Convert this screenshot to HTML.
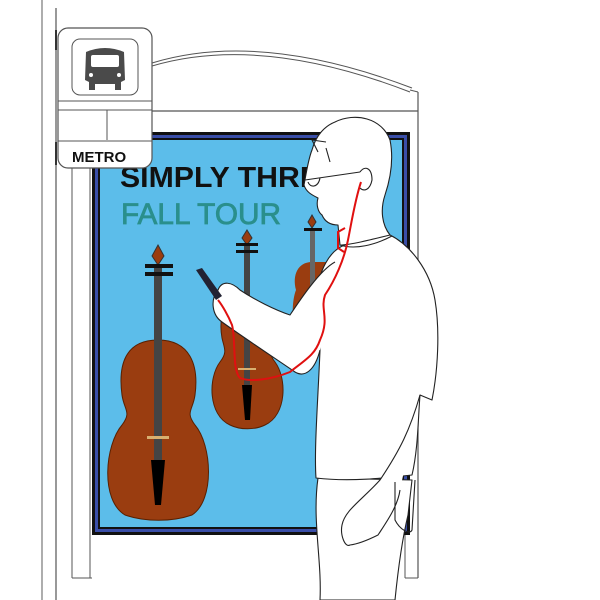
<!DOCTYPE html>
<html><head><style>
html,body{margin:0;padding:0;background:#fff;width:600px;height:600px;overflow:hidden}
svg{display:block}
</style></head><body>
<svg width="600" height="600" viewBox="0 0 600 600" xmlns="http://www.w3.org/2000/svg">
<rect width="600" height="600" fill="#fff"/>
<line x1="42" y1="0" x2="42" y2="600" stroke="#777" stroke-width="1.2"/>
<line x1="56" y1="8" x2="56" y2="600" stroke="#555" stroke-width="1.2"/>
<path d="M152 63 Q260 30 412 88" fill="none" stroke="#555" stroke-width="1"/>
<path d="M152 66 Q260 34 410 92" fill="none" stroke="#555" stroke-width="1"/>
<line x1="410" y1="90" x2="418" y2="92" stroke="#555"/>
<line x1="418" y1="92" x2="418" y2="578" stroke="#555" stroke-width="1.2"/>
<line x1="152" y1="111" x2="418" y2="111" stroke="#555" stroke-width="1.2"/>
<line x1="72" y1="168" x2="72" y2="578" stroke="#555"/>
<line x1="90" y1="168" x2="90" y2="578" stroke="#555"/>
<line x1="72" y1="578" x2="92" y2="578" stroke="#555"/>
<line x1="405" y1="530" x2="405" y2="578" stroke="#555"/>
<line x1="405" y1="578" x2="418" y2="578" stroke="#555"/>
<rect x="92" y="132" width="318" height="403" fill="#111"/>
<rect x="95" y="135" width="312" height="397" fill="#3a4ea8"/>
<rect x="98" y="138" width="306" height="391" fill="#111"/>
<rect x="100" y="140" width="302" height="387" fill="#5cbdea"/>
<text x="120" y="187" font-family="Liberation Sans, sans-serif" font-weight="bold" font-size="29" fill="#111" textLength="200" lengthAdjust="spacingAndGlyphs">SIMPLY THRE</text>
<text x="121" y="224" font-family="Liberation Sans, sans-serif" font-size="30" fill="#2a8f8c" stroke="#2a8f8c" stroke-width="0.8" textLength="160" lengthAdjust="spacingAndGlyphs">FALL TOUR</text>
<g>
<path d="M158 340 C125 340 118 365 122 395 C124 410 132 412 122 425 C105 445 100 500 125 515 C145 522 172 522 192 515 C215 500 212 445 195 425 C185 412 193 410 195 395 C199 365 190 340 158 340Z" fill="#9a3d10" stroke="#5a2000"/>
<rect x="154" y="265" width="8" height="210" fill="#444"/>
<path d="M151 460 L165 460 L161 505 L155 505Z" fill="#000"/>
<rect x="147" y="436" width="22" height="3" fill="#d8b070"/>
<path d="M158 245 L164 256 L158 265 L152 256Z" fill="#9a3d10" stroke="#333"/>
<rect x="145" y="264" width="28" height="4" fill="#111"/><rect x="145" y="272" width="28" height="4" fill="#111"/>
</g>
<g>
<path d="M247 300 C225 300 218 315 222 338 C224 348 228 352 220 362 C208 378 208 415 230 425 C240 430 255 430 265 425 C287 415 287 378 275 362 C267 352 272 348 273 338 C276 315 270 300 247 300Z" fill="#9a3d10" stroke="#5a2000"/>
<rect x="244" y="245" width="6" height="150" fill="#444"/>
<path d="M242 385 L252 385 L250 420 L245 420Z" fill="#000"/>
<rect x="238" y="368" width="18" height="2" fill="#d8b070"/>
<path d="M247 230 L252 238 L247 245 L242 238Z" fill="#9a3d10" stroke="#333"/>
<rect x="236" y="243" width="22" height="3" fill="#111"/><rect x="236" y="250" width="22" height="3" fill="#111"/>
</g>
<g>
<path d="M312 262 C298 262 292 275 296 290 C292 300 290 325 300 340 L330 340 L330 262Z" fill="#9a3d10"/>
<rect x="310" y="228" width="5" height="80" fill="#666"/>
<path d="M312 215 L316 222 L312 228 L308 222Z" fill="#9a3d10" stroke="#333"/>
<rect x="304" y="228" width="18" height="3" fill="#111"/>
</g>
<rect x="58" y="28" width="94" height="140" rx="10" fill="#fff" stroke="#555" stroke-width="1.2"/>
<rect x="72" y="39" width="66" height="56" rx="8" fill="#fff" stroke="#555"/>
<path d="M86 52 Q105 44 124 52 L125 80 L121 82 L121 90 L115 90 L115 84 L95 84 L95 90 L89 90 L89 82 L85 80Z" fill="#4a4a4a"/>
<rect x="91" y="55" width="28" height="12" fill="#fff" rx="2"/>
<circle cx="91" cy="75" r="2" fill="#fff"/><circle cx="119" cy="75" r="2" fill="#fff"/>
<line x1="58" y1="101" x2="152" y2="101" stroke="#555"/>
<line x1="58" y1="110" x2="152" y2="110" stroke="#555"/>
<line x1="107" y1="110" x2="107" y2="140" stroke="#555"/>
<line x1="58" y1="141" x2="152" y2="141" stroke="#555"/>
<text x="72" y="162" font-family="Liberation Sans, sans-serif" font-weight="bold" font-size="15" fill="#111">METRO</text>
<path d="M56 30 L56 50 M56 142 L56 165" stroke="#333" stroke-width="2"/>
<g fill="#fff" stroke="#222" stroke-width="1.1" stroke-linejoin="round">
<path d="M318 478 C312 520 322 560 320 600 L395 600 C398 570 402 540 408 515 L412 480Z"/>
<path d="M345 245 C330 250 318 270 316 300 L320 350 C318 400 314 450 316 478 C350 482 385 478 412 475 C418 450 418 420 420 395 L432 400 C438 370 440 330 435 300 C430 270 410 245 390 235 L370 232Z"/>
<path d="M420 395 C410 430 400 450 380 480 C362 500 345 510 342 525 C340 535 345 548 350 545 C358 544 368 540 378 535 C388 520 398 505 400 490"/>
<path d="M395 482 L395 520 C400 530 410 535 412 530 L415 480" fill="none"/>
<path d="M335 262 C320 270 300 300 290 315 C275 310 255 300 240 290 C232 282 222 280 218 290 C210 300 212 315 222 322 C240 335 270 355 295 372 C305 378 315 370 320 350"/>
<path d="M335 122 C355 112 382 118 390 140 C394 160 390 180 385 195 C380 210 382 225 390 235 C370 240 350 245 340 245 L338 225 C330 225 325 222 322 215 C318 212 316 205 318 198 C312 195 306 192 304 185 C306 175 308 160 312 150 C316 135 325 126 335 122Z"/>
<path d="M318 152 L312 140 L326 142 M330 162 L326 148" fill="none"/>
<path d="M305 180 L360 172 M320 178 C318 188 310 188 308 182" fill="none"/>
<path d="M360 172 C365 165 372 168 372 180 C370 190 364 192 360 188" fill="none"/>
<path d="M340 245 C355 250 375 245 392 236" fill="none"/>
</g>
<path d="M196 270 L202 268 L222 296 L216 300Z" fill="#223"/>
<path d="M361 182 C355 200 352 220 348 240 C344 260 335 280 325 295 C320 310 330 318 320 340 C315 355 305 360 290 372 C270 380 250 382 240 378 C232 370 236 340 232 325 C228 315 222 305 218 300" fill="none" stroke="#e01010" stroke-width="2"/>
<path d="M345 228 L338 232 L338 248 L344 252" fill="none" stroke="#e01010" stroke-width="2"/>
</svg>
</body></html>
